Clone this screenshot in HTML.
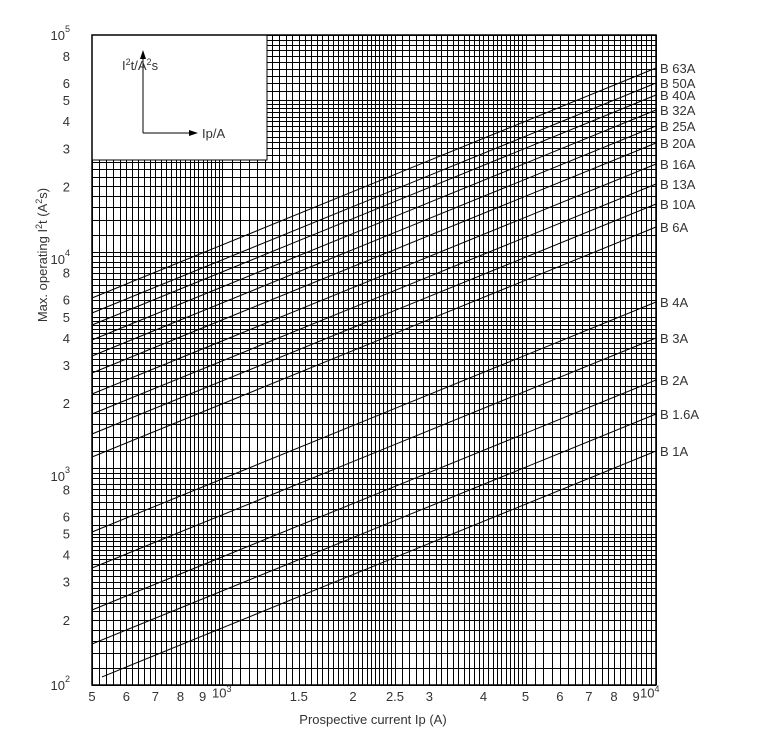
<!DOCTYPE html>
<html><head><meta charset="utf-8"><style>
html,body{margin:0;padding:0;background:#fff;}
svg{display:block;font-family:"Liberation Sans",sans-serif;}
text{fill:#333;font-size:13px;}
</style></head><body>
<svg id="s" width="779" height="743" xmlns="http://www.w3.org/2000/svg">
<g id="grid" stroke="#000" stroke-width="1" shape-rendering="crispEdges"></g>
<rect x="92" y="35" width="175" height="125" fill="#fff" stroke="#000" stroke-width="1" shape-rendering="crispEdges"/>
<rect x="92" y="35" width="564" height="650" fill="none" stroke="#000" stroke-width="1.5"/>
<g id="curves" stroke="#000" stroke-width="1"></g>
<line x1="143" y1="133" x2="143" y2="58" stroke="#000"/>
<polygon points="143,50 140,59 146,59" fill="#000"/>
<line x1="143" y1="133" x2="190" y2="133" stroke="#000"/>
<polygon points="198,133 189,130 189,136" fill="#000"/>
<text x="122" y="70">I<tspan dy="-5" font-size="9">2</tspan><tspan dy="5">t/A</tspan><tspan dy="-5" font-size="9">2</tspan><tspan dy="5">s</tspan></text>
<text x="202" y="138">Ip/A</text>
<g id="lbl" font-size="13"></g>
<g text-anchor="end">
<text x="70" y="40">10<tspan dy="-8" font-size="9">5</tspan></text>
<text x="70" y="481">10<tspan dy="-8" font-size="9">3</tspan></text>
<text x="70" y="264">10<tspan dy="-8" font-size="9">4</tspan></text>
<text x="70" y="690">10<tspan dy="-8" font-size="9">2</tspan></text>
</g>
<g id="ylab" text-anchor="end"></g>
<g id="xlab" text-anchor="middle"></g>
<text x="373" y="724" text-anchor="middle">Prospective  current  Ip   (A)</text>
<text transform="translate(47,255) rotate(-90)" text-anchor="middle">Max.  operating  I<tspan dy="-5" font-size="9">2</tspan><tspan dy="5">t   (A</tspan><tspan dy="-5" font-size="9">2</tspan><tspan dy="5">s)</tspan></text>
</svg>
<script>
var NS="http://www.w3.org/2000/svg";
function X(v){return 92+433.5*Math.log10(v/500);}
function Y(v){return 685-216.67*Math.log10(v/100);}
var g=document.getElementById('grid');
function ln(x1,y1,x2,y2,p){var l=document.createElementNS(NS,'line');l.setAttribute('x1',x1);l.setAttribute('y1',y1);l.setAttribute('x2',x2);l.setAttribute('y2',y2);p.appendChild(l);}
// vertical
var xs=[];
for(var v=500;v<1000;v+=20)xs.push(v);
for(v=1000;v<2500;v+=50)xs.push(v);
for(v=2500;v<5000;v+=100)xs.push(v);
for(v=5000;v<=10000;v+=250)xs.push(v);
xs.forEach(function(v){var x=Math.round(X(v))+0.5;ln(x,35,x,685,g);});
// horizontal
[100,1000,10000].forEach(function(d){
 var ms=[];for(var m=1;m<2;m+=0.2)ms.push(m);
 for(m=2;m<5;m+=0.2)ms.push(m);
 for(m=5;m<=10.001;m+=0.5)ms.push(m);
 ms.forEach(function(m){var y=Math.round(Y(d*m))+0.5;ln(92,y,656,y,g);});
});
// curves
var c=document.getElementById('curves');
var R=[68,83,95,110,126,143,164,184,204,227,302,338,380,414,451];
var N=['63A','50A','40A','32A','25A','20A','16A','13A','10A','6A','4A','3A','2A','1.6A','1A'];
var lb=document.getElementById('lbl');
R.forEach(function(r,i){
 var x1=92,y1=r+230;
 if(i==14){x1=102;y1=r+230*(554/564);}
 ln(x1,y1,656,r,c);
 var t=document.createElementNS(NS,'text');t.setAttribute('x',660);t.setAttribute('y',r+5);
 t.textContent='B  '+N[i];lb.appendChild(t);
});
// y labels
var yl=document.getElementById('ylab');
[100,1000,10000].forEach(function(d){[2,3,4,5,6,8].forEach(function(m){
 var t=document.createElementNS(NS,'text');t.setAttribute('x',70);t.setAttribute('y',Y(d*m)+5);t.textContent=m;yl.appendChild(t);});});
var xl=document.getElementById('xlab');
[[500,'5'],[600,'6'],[700,'7'],[800,'8'],[900,'9'],[1500,'1.5'],[2000,'2'],[2500,'2.5'],[3000,'3'],[4000,'4'],[5000,'5'],[6000,'6'],[7000,'7'],[8000,'8'],[9000,'9']].forEach(function(a){
 var t=document.createElementNS(NS,'text');t.setAttribute('x',X(a[0]));t.setAttribute('y',701);t.textContent=a[1];xl.appendChild(t);});
</script>
<svg width="0" height="0" style="position:absolute"></svg>
<div style="position:absolute;left:212px;top:684px;font-family:'Liberation Sans',sans-serif;font-size:13px;color:#333">10<sup style="font-size:9px">3</sup></div>
<div style="position:absolute;left:640px;top:684px;font-family:'Liberation Sans',sans-serif;font-size:13px;color:#333">10<sup style="font-size:9px">4</sup></div>
</body></html>
